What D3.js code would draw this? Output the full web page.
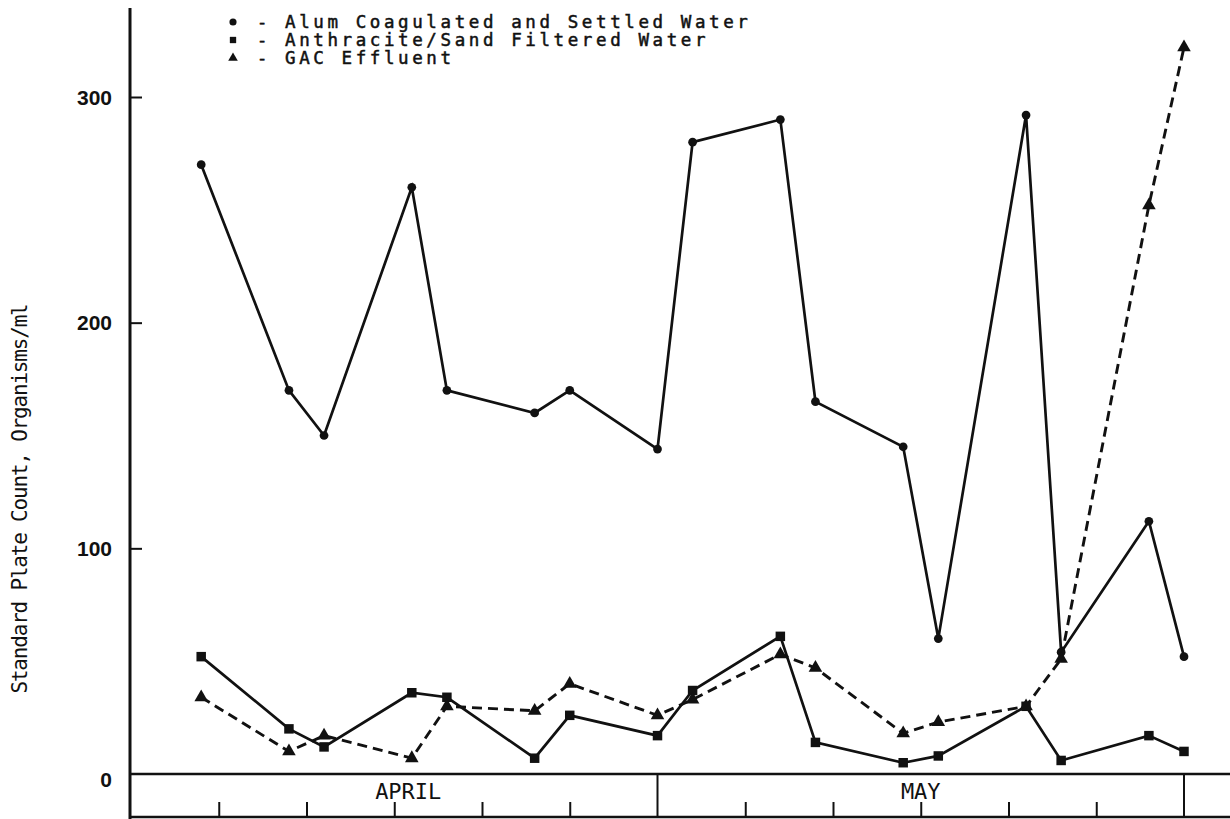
<!DOCTYPE html>
<html>
<head>
<meta charset="utf-8">
<script src="https://cdn.jsdelivr.net/npm/d3@7"></script>
<style>
  html, body { margin: 0; padding: 0; background: #ffffff; }
  svg { display: block; }
  .mono { font-family: "DejaVu Sans Mono", "Liberation Mono", monospace; fill: #111; }
  .num { font-family: "Liberation Sans", Arial, sans-serif; font-weight: bold; fill: #111; }
  .legend text { stroke: #111; stroke-width: 0.5; }
</style>
</head>
<body>
<svg id="chart" width="1230" height="819"></svg>
<script>
// Sampling dates (month/day) and plate counts, organisms/ml
const months = ["APRIL", "MAY"];
const sampleDates = ["4/4", "4/9", "4/11", "4/16", "4/18", "4/23", "4/25", "4/30",
                     "5/2", "5/7", "5/9", "5/14", "5/16", "5/21", "5/23", "5/28", "5/30"];
const alumSettled = [270, 170, 150, 260, 170, 160, 170, 144,
                     280, 290, 165, 145, 60, 292, 54, 112, 52];
const anthraciteSand = [52, 20, 12, 36, 34, 7, 26, 17,
                        37, 61, 14, 5, 8, 30, 6, 17, 10];
const gacEffluent = [34, 10, 17, 7, 30, 28, 40, 26,
                     33, 53, 47, 18, 23, 30, 51, 252, 322];
const yTicks = [0, 100, 200, 300];
const dayTicks = [5, 10, 15, 20, 25];
const legendLabels = ["Alum Coagulated and Settled Water",
                      "Anthracite/Sand Filtered Water",
                      "GAC Effluent"];

const svg = d3.select("#chart");
const W = 1230, H = 819;
const axisX = 130, zeroY = 774, bottomY = 817;

// Each month is laid out as a 30-day block; April day 0 sits on the y axis
const monthIndex = m => months.findIndex((_, i) => i + 4 === m);
const dayIndex = s => { const [m, d] = s.split("/").map(Number); return monthIndex(m) * 30 + d; };

const x = d3.scaleLinear().domain([0, 60]).range([131, 1184]);
const y = d3.scaleLinear().domain([0, 300]).range([zeroY, 97]);

// Y axis with inward ticks
const yAxis = d3.axisRight(y).tickValues(yTicks.filter(v => v > 0)).tickSize(12).tickFormat("");
const gy = svg.append("g").attr("transform", `translate(${axisX},0)`).call(yAxis);
gy.select(".domain").remove();
gy.selectAll(".tick line").attr("stroke", "#111").attr("stroke-width", 2);
svg.append("line").attr("x1", axisX).attr("x2", axisX).attr("y1", 8).attr("y2", H)
  .attr("stroke", "#111").attr("stroke-width", 3);

svg.selectAll(".ylab").data(yTicks).join("text")
  .attr("class", "num")
  .attr("x", 112).attr("y", d => y(d) + (d === 0 ? 5 : 0))
  .attr("text-anchor", "end").attr("dominant-baseline", "central")
  .attr("font-size", 21)
  .text(d => d);

// Date band under the zero line
svg.append("line").attr("x1", axisX).attr("x2", W).attr("y1", zeroY).attr("y2", zeroY)
  .attr("stroke", "#111").attr("stroke-width", 2.5);
svg.append("line").attr("x1", axisX).attr("x2", W).attr("y1", bottomY).attr("y2", bottomY)
  .attr("stroke", "#111").attr("stroke-width", 2.5);

const monthStarts = months.map((_, i) => i * 30);
svg.selectAll(".mdiv").data([30, 60]).join("line")
  .attr("x1", d => x(d)).attr("x2", d => x(d))
  .attr("y1", zeroY).attr("y2", bottomY)
  .attr("stroke", "#111").attr("stroke-width", 2);

const tickDays = monthStarts.flatMap(s => dayTicks.map(d => s + d));
const xAxis = d3.axisTop(x).tickValues(tickDays).tickSize(15).tickFormat("");
const gx = svg.append("g").attr("transform", `translate(0,${bottomY})`).call(xAxis);
gx.select(".domain").remove();
gx.selectAll(".tick line").attr("stroke", "#111").attr("stroke-width", 2);

svg.selectAll(".mlab").data(months).join("text")
  .attr("class", "mono")
  .attr("x", (d, i) => x(i * 30 + 15) + (i === 0 ? 14 : 0))
  .attr("y", 791)
  .attr("text-anchor", "middle").attr("dominant-baseline", "central")
  .attr("font-size", 22)
  .text(d => d);

// Y axis title
svg.append("text")
  .attr("class", "mono")
  .attr("transform", "translate(20,499) rotate(-90)")
  .attr("text-anchor", "middle").attr("dominant-baseline", "central")
  .attr("font-size", 21)
  .attr("letter-spacing", -1.2)
  .text("Standard Plate Count, Organisms/ml");

// Series
const days = sampleDates.map(dayIndex);
const line = d3.line().x(d => x(d[0])).y(d => y(d[1]));
const pairs = vals => days.map((d, i) => [d, vals[i]]);

svg.append("path").datum(pairs(alumSettled)).attr("d", line)
  .attr("fill", "none").attr("stroke", "#111").attr("stroke-width", 2.7);
svg.append("path").datum(pairs(anthraciteSand)).attr("d", line)
  .attr("fill", "none").attr("stroke", "#111").attr("stroke-width", 2.7);
svg.append("path").datum(pairs(gacEffluent)).attr("d", line)
  .attr("fill", "none").attr("stroke", "#111").attr("stroke-width", 2.9)
  .attr("stroke-dasharray", "10 6");

const sym = (type, size) => d3.symbol().type(type).size(size)();

svg.selectAll(".c").data(pairs(alumSettled)).join("path")
  .attr("d", sym(d3.symbolCircle, 60))
  .attr("transform", d => `translate(${x(d[0])},${y(d[1])})`).attr("fill", "#111");
svg.selectAll(".s").data(pairs(anthraciteSand)).join("path")
  .attr("d", sym(d3.symbolSquare, 90))
  .attr("transform", d => `translate(${x(d[0])},${y(d[1])})`).attr("fill", "#111");
svg.selectAll(".t").data(pairs(gacEffluent)).join("path")
  .attr("d", sym(d3.symbolTriangle, 80))
  .attr("transform", d => `translate(${x(d[0])},${y(d[1])})`).attr("fill", "#111");

// Legend
const legendTypes = [d3.symbolCircle, d3.symbolSquare, d3.symbolTriangle];
const lg = svg.append("g").attr("class", "legend");
legendLabels.forEach((lab, i) => {
  const cy = 22 + i * 18;
  lg.append("path").attr("d", sym(legendTypes[i], 40))
    .attr("transform", `translate(233,${cy})`).attr("fill", "#111");
  lg.append("text").attr("class", "mono").attr("x", 262).attr("y", cy)
    .attr("text-anchor", "middle")
    .attr("dominant-baseline", "central").attr("font-size", 17).text("-");
  lg.append("text").attr("class", "mono").attr("x", 285).attr("y", cy)
    .attr("dominant-baseline", "central").attr("font-size", 17.5)
    .attr("letter-spacing", 3.6).text(lab);
});
</script>
</body>
</html>
